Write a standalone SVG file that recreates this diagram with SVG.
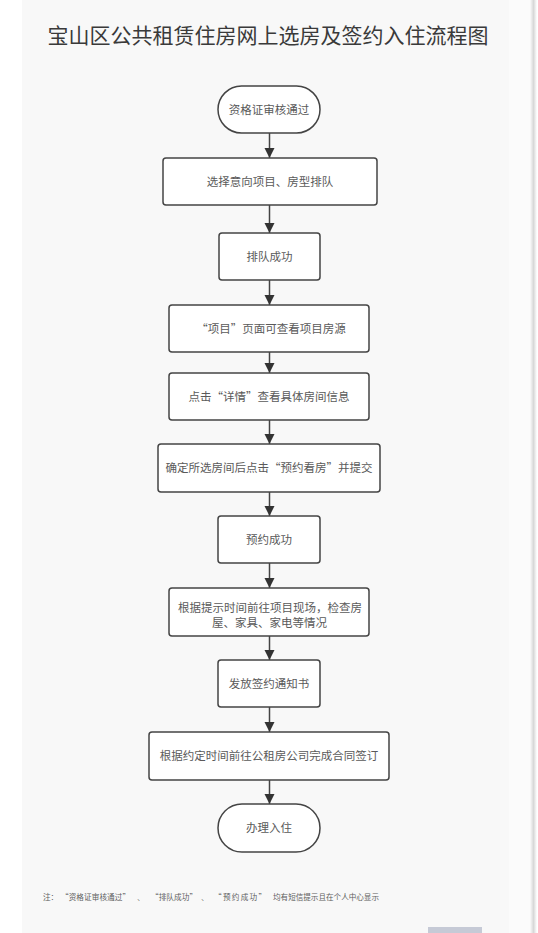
<svg xmlns="http://www.w3.org/2000/svg" width="538" height="933" viewBox="0 0 538 933">
<defs>
<style>
.bx{fill:#ffffff;stroke:#444444;stroke-width:1.5}
.t{font-family:"Noto Sans CJK SC","Noto Sans",sans-serif;font-size:11.5px;fill:#5a5a5a;text-anchor:middle}
.fn{font-family:"Noto Sans CJK SC","Noto Sans",sans-serif;font-size:7.6px;fill:#5e5e5e}
.c{stroke:#444444;stroke-width:1.5;fill:none;marker-end:url(#ah)}
</style>
<marker id="ah" viewBox="0 0 10 12" refX="10" refY="6" markerWidth="10" markerHeight="12" markerUnits="userSpaceOnUse" orient="auto">
<path d="M0,1 L10,6 L0,11 Z" fill="#333333"/>
</marker>
<linearGradient id="sh" x1="0" y1="0" x2="1" y2="0">
<stop offset="0" stop-color="#fbfbfb"/>
<stop offset="0.5" stop-color="#d8d8d8"/>
<stop offset="1" stop-color="#ffffff"/>
</linearGradient>
</defs>
<rect x="0" y="0" width="538" height="933" fill="#ffffff"/>
<rect x="22" y="0" width="488" height="933" fill="#f8f8f8"/>
<rect x="509" y="0" width="22" height="933" fill="#fbfbfb"/>
<rect x="530" y="0" width="7" height="933" fill="url(#sh)"/>
<rect x="428" y="927" width="54" height="6" fill="#c6cad6"/>
<text x="268" y="43" font-family="'Noto Sans CJK SC','Noto Sans',sans-serif" font-size="21" fill="#3a3a3a" text-anchor="middle">宝山区公共租赁住房网上选房及签约入住流程图</text>
<g id="connectors">
<line class="c" x1="269.5" y1="133" x2="269.5" y2="158"/>
<line class="c" x1="269.5" y1="205" x2="269.5" y2="233"/>
<line class="c" x1="269.5" y1="280" x2="269.5" y2="305"/>
<line class="c" x1="269.5" y1="352" x2="269.5" y2="373"/>
<line class="c" x1="269.5" y1="420" x2="269.5" y2="444"/>
<line class="c" x1="269.5" y1="492" x2="269.5" y2="516"/>
<line class="c" x1="269.5" y1="563" x2="269.5" y2="588"/>
<line class="c" x1="269.5" y1="636" x2="269.5" y2="660"/>
<line class="c" x1="269.5" y1="707" x2="269.5" y2="732"/>
<line class="c" x1="269.5" y1="780" x2="269.5" y2="804"/>
</g>
<g id="n1"><rect class="bx" x="218" y="86" width="102" height="47" rx="23.5"/><text class="t" x="269" y="113.5">资格证审核通过</text></g>
<g id="n2"><rect class="bx" x="163" y="158" width="214" height="47" rx="3"/><text class="t" x="270" y="185.5">选择意向项目、房型排队</text></g>
<g id="n3"><rect class="bx" x="219" y="233" width="101" height="47" rx="3"/><text class="t" x="269.5" y="260.5">排队成功</text></g>
<g id="n4"><rect class="bx" x="169" y="305" width="200" height="47" rx="3"/><text class="t" x="271" y="332.5">“项目”页面可查看项目房源</text></g>
<g id="n5"><rect class="bx" x="169" y="373" width="200" height="47" rx="3"/><text class="t" x="269" y="400.5">点击“详情”查看具体房间信息</text></g>
<g id="n6"><rect class="bx" x="158" y="444" width="222" height="48" rx="3"/><text class="t" x="269" y="472">确定所选房间后点击“预约看房”并提交</text></g>
<g id="n7"><rect class="bx" x="218" y="516" width="102" height="47" rx="3"/><text class="t" x="269" y="543.5">预约成功</text></g>
<g id="n8"><rect class="bx" x="169" y="588" width="200" height="48" rx="3"/><text class="t" x="270" y="612">根据提示时间前往项目现场，检查房</text><text class="t" x="269.5" y="626.5">屋、家具、家电等情况</text></g>
<g id="n9"><rect class="bx" x="218" y="660" width="102" height="47" rx="3"/><text class="t" x="269" y="687.5">发放签约通知书</text></g>
<g id="n10"><rect class="bx" x="149" y="732" width="240" height="48" rx="3"/><text class="t" x="269" y="760">根据约定时间前往公租房公司完成合同签订</text></g>
<g id="n11"><rect class="bx" x="218" y="804" width="102" height="48" rx="24"/><text class="t" x="269" y="832">办理入住</text></g>
<text class="fn" y="900"><tspan x="43">注：</tspan><tspan x="61" textLength="69" lengthAdjust="spacing">“资格证审核通过”</tspan><tspan x="137">、</tspan><tspan x="151" textLength="46" lengthAdjust="spacing">“排队成功”</tspan><tspan x="201">、</tspan><tspan x="214" textLength="52" lengthAdjust="spacing">“预约成功”</tspan><tspan x="273" textLength="106" lengthAdjust="spacing">均有短信提示且在个人中心显示</tspan></text>
</svg>
